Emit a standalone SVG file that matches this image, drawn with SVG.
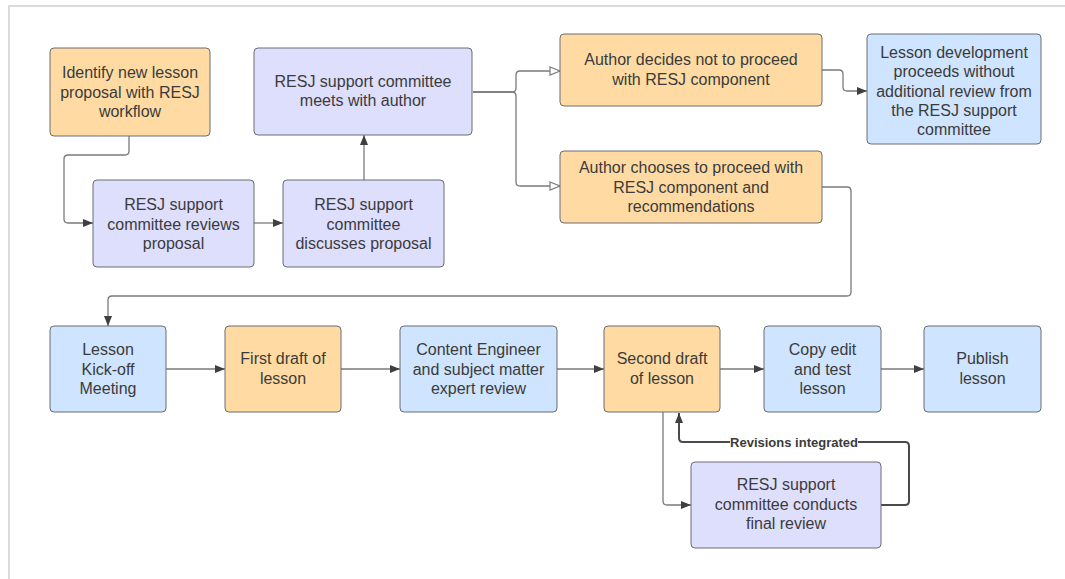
<svg xmlns="http://www.w3.org/2000/svg" width="1065" height="579" viewBox="0 0 1065 579">
<style>
.box{stroke:#6a6d73;stroke-width:1;}
.o{fill:#FFDBA3;}
.l{fill:#DEDEFD;}
.b{fill:#CFE4FE;}
.t{font-family:"Liberation Sans",Arial,sans-serif;font-size:16px;fill:#3b3b3b;text-anchor:middle;}
.c{fill:none;stroke:#7a7a7a;stroke-width:1.3;}
.cf{marker-end:url(#af);}
.ch{marker-end:url(#ah);}
.cd{fill:none;stroke:#4a4a4a;stroke-width:2;marker-end:url(#af);}
.lbl{font-family:"Liberation Sans",Arial,sans-serif;font-size:13px;font-weight:bold;fill:#3b3b3b;text-anchor:middle;}
</style>
<defs>
<marker id="af" viewBox="0 0 10 8" refX="10" refY="4" markerWidth="11" markerHeight="8" markerUnits="userSpaceOnUse" orient="auto">
<path d="M0,0 L10,4 L0,8 z" fill="#3f3f3f"/>
</marker>
<marker id="ah" viewBox="0 0 12 10" refX="11" refY="5" markerWidth="12" markerHeight="10" markerUnits="userSpaceOnUse" orient="auto">
<path d="M1,1 L11,5 L1,9 z" fill="#ffffff" stroke="#7a7a7a" stroke-width="1.2"/>
</marker>
</defs>
<rect width="1065" height="579" fill="#ffffff"/>
<path d="M9,579 V6 H1065" fill="none" stroke="#cfcfcf" stroke-width="1.5"/>

<g id="connectors">
<path class="c cf" d="M129,136 V151 Q129,155 125,155 H68 Q64,155 64,159 V219 Q64,223 68,223 H93"/>
<path class="c cf" d="M254,223 H283"/>
<path class="c cf" d="M364,180 V135"/>
<path class="c ch" d="M473,92 H512 Q516,92 516,88 V75 Q516,71 520,71 H560"/>
<path class="c ch" d="M473,92 H512 Q516,92 516,96 V182 Q516,186 520,186 H560"/>
<path class="c cf" d="M822,70 H839 Q843,70 843,74 V87 Q843,91 847,91 H867"/>
<path class="c cf" d="M822,187 H847 Q851,187 851,191 V292 Q851,296 847,296 H112 Q108,296 108,300 V326"/>
<path class="c cf" d="M166,369 H225"/>
<path class="c cf" d="M341,369 H400"/>
<path class="c cf" d="M557,369 H604"/>
<path class="c cf" d="M720,369 H764"/>
<path class="c cf" d="M881,369 H924"/>
<path class="c cf" d="M663,412 V501 Q663,505 667,505 H691"/>
<path class="cd" d="M881,505 H905 Q909,505 909,501 V446 Q909,442 905,442 H683 Q679,442 679,438 V413"/>
<rect x="730" y="434" width="128" height="16" fill="#ffffff"/>
<text class="lbl" x="794" y="446.5">Revisions integrated</text>
</g>

<g id="n1"><rect class="box o" x="50" y="48" width="160" height="88" rx="4"/>
<text class="t"><tspan x="130" y="78">Identify new lesson</tspan><tspan x="130" y="97.5">proposal with RESJ</tspan><tspan x="130" y="117">workflow</tspan></text></g>

<g id="n2"><rect class="box l" x="254" y="48" width="218" height="87" rx="4"/>
<text class="t"><tspan x="363" y="87">RESJ support committee</tspan><tspan x="363" y="106">meets with author</tspan></text></g>

<g id="n3"><rect class="box l" x="93" y="180" width="161" height="87" rx="4"/>
<text class="t"><tspan x="173.5" y="210">RESJ support</tspan><tspan x="173.5" y="229.5">committee reviews</tspan><tspan x="173.5" y="249">proposal</tspan></text></g>

<g id="n4"><rect class="box l" x="283" y="180" width="161" height="87" rx="4"/>
<text class="t"><tspan x="363.5" y="210">RESJ support</tspan><tspan x="363.5" y="229.5">committee</tspan><tspan x="363.5" y="249">discusses proposal</tspan></text></g>

<g id="n5"><rect class="box o" x="560" y="34" width="262" height="72" rx="4"/>
<text class="t"><tspan x="691" y="65">Author decides not to proceed</tspan><tspan x="691" y="84.5">with RESJ component</tspan></text></g>

<g id="n6"><rect class="box b" x="867" y="34" width="174" height="110" rx="4"/>
<text class="t"><tspan x="954" y="58">Lesson development</tspan><tspan x="954" y="77.3">proceeds without</tspan><tspan x="954" y="96.6">additional review from</tspan><tspan x="954" y="115.9">the RESJ support</tspan><tspan x="954" y="135.2">committee</tspan></text></g>

<g id="n7"><rect class="box o" x="560" y="151" width="262" height="72" rx="4"/>
<text class="t"><tspan x="691" y="173">Author chooses to proceed with</tspan><tspan x="691" y="192.5">RESJ component and</tspan><tspan x="691" y="212">recommendations</tspan></text></g>

<g id="n8"><rect class="box b" x="50" y="326" width="116" height="86" rx="4"/>
<text class="t"><tspan x="108" y="355">Lesson</tspan><tspan x="108" y="374.5">Kick-off</tspan><tspan x="108" y="394">Meeting</tspan></text></g>

<g id="n9"><rect class="box o" x="225" y="326" width="116" height="86" rx="4"/>
<text class="t"><tspan x="283" y="364">First draft of</tspan><tspan x="283" y="383.5">lesson</tspan></text></g>

<g id="n10"><rect class="box b" x="400" y="326" width="157" height="86" rx="4"/>
<text class="t"><tspan x="478.5" y="355">Content Engineer</tspan><tspan x="478.5" y="374.5">and subject matter</tspan><tspan x="478.5" y="394">expert review</tspan></text></g>

<g id="n11"><rect class="box o" x="604" y="326" width="116" height="86" rx="4"/>
<text class="t"><tspan x="662" y="364">Second draft</tspan><tspan x="662" y="383.5">of lesson</tspan></text></g>

<g id="n12"><rect class="box b" x="764" y="326" width="117" height="86" rx="4"/>
<text class="t"><tspan x="822.5" y="355">Copy edit</tspan><tspan x="822.5" y="374.5">and test</tspan><tspan x="822.5" y="394">lesson</tspan></text></g>

<g id="n13"><rect class="box b" x="924" y="326" width="117" height="86" rx="4"/>
<text class="t"><tspan x="982.5" y="364">Publish</tspan><tspan x="982.5" y="383.5">lesson</tspan></text></g>

<g id="n14"><rect class="box l" x="691" y="462" width="190" height="86" rx="4"/>
<text class="t"><tspan x="786" y="490">RESJ support</tspan><tspan x="786" y="509.5">committee conducts</tspan><tspan x="786" y="529">final review</tspan></text></g>
</svg>
